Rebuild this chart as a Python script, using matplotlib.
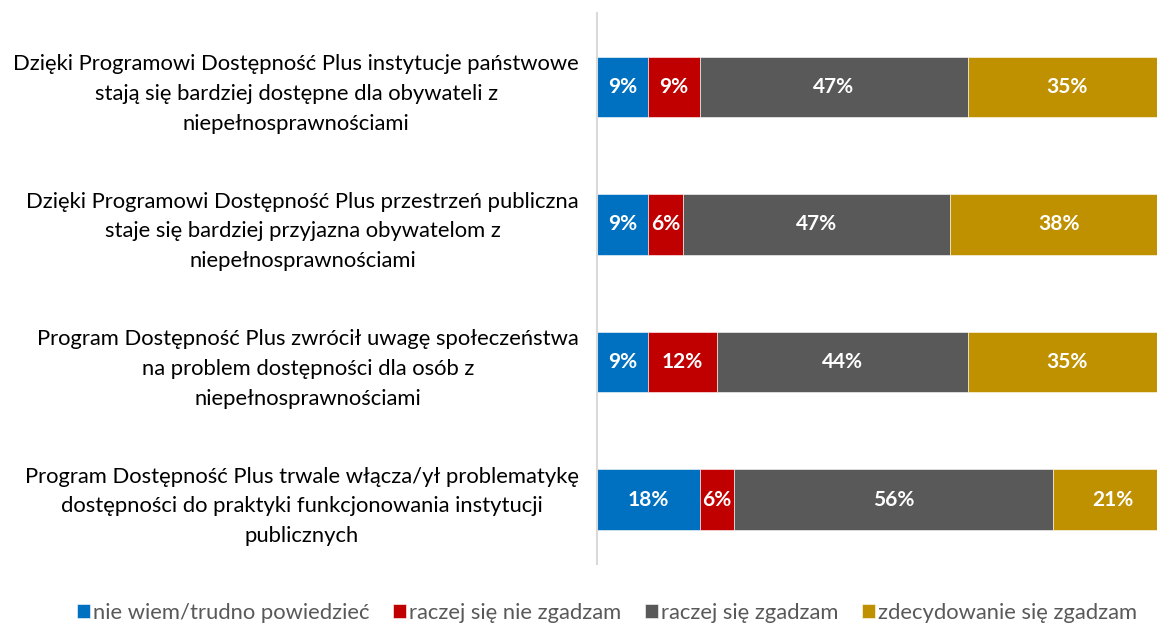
import numpy as np
import matplotlib
matplotlib.use("Agg")
import matplotlib.pyplot as plt

plt.rcParams['font.family'] = ['Lato', 'DejaVu Sans']

# statements (top to bottom)
statements = [
    "Dzięki Programowi Dostępność Plus instytucje państwowe\nstają się bardziej dostępne dla obywateli z\nniepełnosprawnościami",
    "Dzięki Programowi Dostępność Plus przestrzeń publiczna\nstaje się bardziej przyjazna obywatelom z\nniepełnosprawnościami",
    "Program Dostępność Plus zwrócił uwagę społeczeństwa\nna problem dostępności dla osób z\nniepełnosprawnościami",
    "Program Dostępność Plus trwale włącza/ył problematykę\ndostępności do praktyki funkcjonowania instytucji\npublicznych",
]

series_names = ["nie wiem/trudno powiedzieć", "raczej się nie zgadzam",
                "raczej się zgadzam", "zdecydowanie się zgadzam"]
nie_wiem = [9, 9, 9, 18]
nie_zgadzam = [9, 6, 12, 6]
zgadzam = [47, 47, 44, 56]
zdecydowanie = [35, 38, 35, 21]
colors = ["#0070C0", "#C00000", "#595959", "#BF9000"]

fig = plt.figure(figsize=(11.57, 6.27), dpi=100)
ax = fig.add_axes([597 / 1157, 63 / 627, 570 / 1157, 551 / 627])

y = np.arange(len(statements))
left = np.zeros(len(statements))
for name, vals, col in zip(series_names, [nie_wiem, nie_zgadzam, zgadzam, zdecydowanie], colors):
    vals = np.array(vals, dtype=float)
    ax.barh(y, vals, left=left, height=0.44, color=col, label=name,
            edgecolor="white", linewidth=0.4)
    for yi, l, v in zip(y, left, vals):
        ax.text(l + v / 2, yi, f"{int(v)}%", ha="center", va="center",
                color="white", fontsize=15, fontweight="bold")
    left += vals

ax.set_xlim(0, 100)
ax.set_ylim(3.469, -0.538)
ax.set_yticks(y)
ax.set_yticklabels(statements, fontsize=15.8, color="#000000",
                   ha="right", multialignment="center", linespacing=1.62)
ax.tick_params(axis="y", length=0, pad=13)
ax.set_xticks([])
for s in ["top", "right", "bottom"]:
    ax.spines[s].set_visible(False)
ax.spines["left"].set_color("#D9D9D9")
ax.spines["left"].set_linewidth(1.5)

fig.legend(loc="center", bbox_to_anchor=(607 / 1157, 1 - 613 / 627), ncol=4,
           frameon=False, fontsize=15.8, handlelength=0.6, handleheight=0.6,
           handletextpad=0.15, columnspacing=1.05, labelcolor="#595959")

fig.savefig("out.png", dpi=100)
